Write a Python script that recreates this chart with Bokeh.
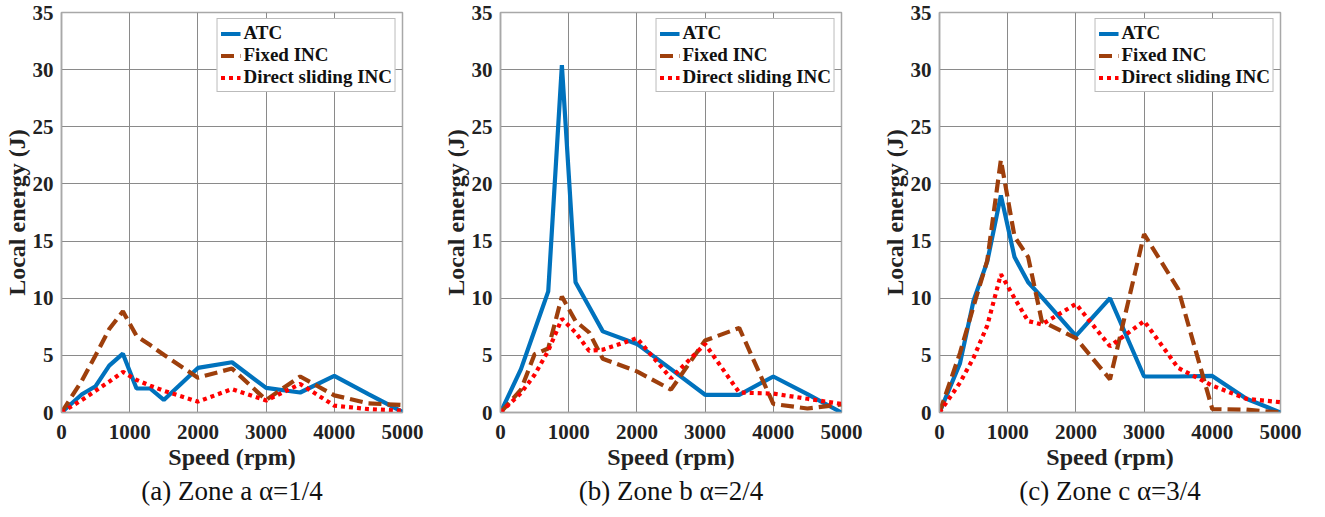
from bokeh.plotting import figure
from bokeh.layouts import row
from bokeh.models import Range1d, FixedTicker, Title
from bokeh.embed import file_html
from bokeh.resources import INLINE

speed = [0, 300, 500, 700, 900, 1100, 1300, 1500, 2000, 2500, 3000, 3500, 4000, 4500, 5000]

atc_a = [0, 1.6, 2.3, 4.1, 5.15, 2.1, 2.1, 1.1, 3.9, 4.4, 2.15, 1.75, 3.2, 1.6, 0.05]
fixed_a = [0, 2.8, 5.0, 7.3, 8.85, 6.7, 5.9, 5.05, 3.05, 3.85, 1.1, 3.15, 1.5, 0.8, 0.65]
direct_a = [0, 1.1, 1.9, 2.7, 3.55, 2.85, 2.35, 1.9, 0.95, 2.05, 1.05, 2.5, 0.6, 0.3, 0.15]

atc_b = [0, 3.8, 7.2, 10.6, 30.4, 11.4, 9.25, 7.1, 6.0, 3.8, 1.55, 1.55, 3.15, 1.6, 0.0]
fixed_b = [0, 2.0, 5.1, 5.6, 10.15, 8.0, 7.0, 4.7, 3.6, 2.0, 6.3, 7.4, 0.75, 0.35, 0.7]
direct_b = [0, 1.7, 3.3, 5.4, 8.2, 7.0, 5.4, 5.5, 6.5, 3.0, 6.0, 1.75, 1.65, 1.2, 0.75]

atc_c = [0, 4.3, 9.8, 13.2, 19.0, 13.6, 11.4, 10.1, 6.7, 10.0, 3.15, 3.15, 3.2, 1.2, 0.0]
fixed_c = [0, 5.2, 9.3, 13.3, 22.1, 15.4, 13.6, 8.0, 6.5, 2.9, 15.6, 10.8, 0.3, 0.25, 0.0]
direct_c = [0, 2.6, 4.8, 7.6, 12.1, 10.0, 8.0, 7.7, 9.5, 5.8, 8.0, 3.9, 2.35, 1.2, 0.9]

series_names = ["ATC", "Fixed INC", "Direct sliding INC"]
captions = ["(a) Zone a α=1/4", "(b) Zone b α=2/4", "(c) Zone c α=3/4"]
x_ticks = [0, 1000, 2000, 3000, 4000, 5000]
y_ticks = [0, 5, 10, 15, 20, 25, 30, 35]

SERIF = "'Liberation Serif', 'Times New Roman', serif"
GRID = "#8a8a8a"
FRAME = "#a8a8a8"


def make_panel(caption, atc, fixed, direct):
    p = figure(width=439, height=509, output_backend="svg", toolbar_location=None,
               x_range=Range1d(0, 5000), y_range=Range1d(0, 35),
               min_border_left=61, min_border_right=37, min_border_top=12,
               min_border_bottom=90)
    p.frame_width = 341
    p.frame_height = 400
    p.outline_line_color = FRAME
    p.outline_line_width = 1.5
    p.background_fill_color = "white"
    p.border_fill_color = "white"

    p.line(speed, atc, line_color="#0072BD", line_width=4.2, legend_label=series_names[0])
    p.line(speed, fixed, line_color="#9E3F0C", line_width=4.2, line_dash="13 6",
           legend_label=series_names[1])
    p.line(speed, direct, line_color="#FF0000", line_width=4.2, line_dash="4 4",
           legend_label=series_names[2])

    for ax in (p.xaxis[0], p.yaxis[0]):
        ax.axis_line_color = FRAME
        ax.axis_line_width = 1.5
        ax.major_tick_line_color = None
        ax.minor_tick_line_color = None
        ax.major_label_text_font = SERIF
        ax.major_label_text_font_style = "bold"
        ax.major_label_text_font_size = "21px"
        ax.major_label_text_color = "#222222"
        ax.axis_label_text_font = SERIF
        ax.axis_label_text_font_style = "bold"
        ax.axis_label_text_font_size = "24px"
        ax.axis_label_text_color = "#222222"
    p.xaxis.ticker = FixedTicker(ticks=x_ticks)
    p.yaxis.ticker = FixedTicker(ticks=y_ticks)
    p.xaxis.axis_label = "Speed (rpm)"
    p.yaxis.axis_label = "Local energy (J)"
    p.xaxis.major_label_standoff = 6
    p.yaxis.major_label_standoff = 2
    p.xaxis.axis_label_standoff = 2
    p.yaxis.axis_label_standoff = 0

    p.xgrid.ticker = FixedTicker(ticks=x_ticks)
    p.ygrid.ticker = FixedTicker(ticks=y_ticks)
    for g in (p.xgrid[0], p.ygrid[0]):
        g.grid_line_color = GRID
        g.grid_line_width = 1
        g.grid_line_alpha = 1

    lg = p.legend[0]
    lg.location = "top_right"
    lg.margin = 6
    lg.padding = 3
    lg.spacing = 0
    lg.label_height = 21
    lg.glyph_height = 21
    lg.glyph_width = 20
    lg.label_standoff = 3
    lg.label_text_font = SERIF
    lg.label_text_font_style = "bold"
    lg.label_text_font_size = "19px"
    lg.label_text_color = "#111111"
    lg.border_line_color = "#777777"
    lg.border_line_width = 1
    lg.background_fill_color = "white"
    lg.background_fill_alpha = 1

    cap = Title(text=caption, align="center", text_font=SERIF, text_font_style="normal",
                text_font_size="27px", text_color="#111111", standoff=3)
    p.add_layout(cap, "below")
    return p


pa = make_panel(captions[0], atc_a, fixed_a, direct_a)
pb = make_panel(captions[1], atc_b, fixed_b, direct_b)
pc = make_panel(captions[2], atc_c, fixed_c, direct_c)

layout = row(pa, pb, pc, spacing=0)
open("out.html", "w").write(file_html(layout, INLINE))
